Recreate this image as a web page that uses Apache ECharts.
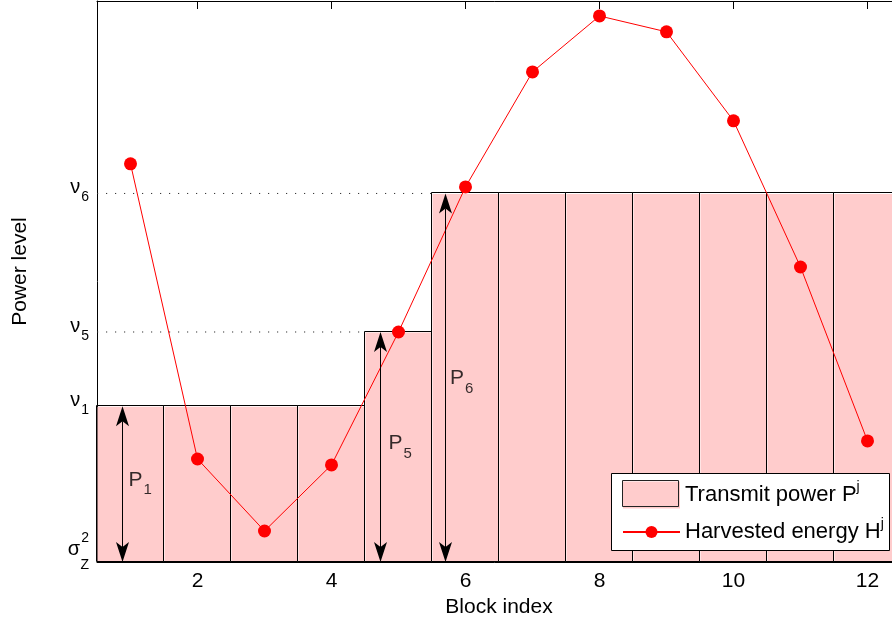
<!DOCTYPE html>
<html>
<head>
<meta charset="utf-8">
<script src="https://cdn.jsdelivr.net/npm/echarts@6/dist/echarts.min.js"></script>
<style>html,body{margin:0;padding:0;background:#fff}#c{width:892px;height:620px}</style>
</head>
<body>
<div id="c"></div>
<script>
// ---- data ----
const blocks = ['1','2','3','4','5','6','7','8','9','10','11','12'];
const nu1 = 1.00, nu5 = 1.476, nu6 = 2.365;
const transmitPower = [nu1, nu1, nu1, nu1, nu5, nu6, nu6, nu6, nu6, nu6, nu6, nu6];
const harvestedEnergy = [2.555, 0.661, 0.199, 0.623, 1.476, 2.407, 3.145, 3.504, 3.402, 2.831, 1.893, 0.777];
const xTickLabels = ['2','4','6','8','10','12'];
const yTickValues = [0, nu1, nu5, nu6];
const yTickLabels = [
  '{sup|2}\n{sig|σ}{gap| }\n{zsub|Z}\n{pad| }',
  '{nu|ν}{sub|1}',
  '{nu|ν}{sub|5}',
  '{nu|ν}{sub|6}'
];
// water-level dotted guides: level and the block where it starts
const guideLevels = [nu5, nu6];
const guideBlocks = [5, 6];
// power arrows (x in block units), their tops and labels
const arrowX = [0.891, 4.746, 5.709];
const arrowTop = [nu1, nu5, nu6];
const powerSubs = ['1', '5', '6'];
const powerLabelX = [0.97, 4.851, 5.769];
const powerLabelY = [0.526, 0.761, 1.178];

const FONT = '"Liberation Sans", Arial, Helvetica, sans-serif';
const chart = echarts.init(document.getElementById('c'), null, {renderer: 'canvas'});

const evenIdx = (i, v) => xTickLabels.indexOf(String(v)) >= 0;
const snap = v => Math.floor(v - 0.5) + 0.5;

const series = [
  {
    name: 'Transmit power', type: 'bar', data: transmitPower,
    barWidth: '100%',
    itemStyle: {color: '#ffcccc', borderColor: 'rgba(0,0,0,0)', borderWidth: 1},
    emphasis: {disabled: true}, z: 2
  },
  {
    // crisp outlines of the blocks
    type: 'custom', silent: true, z: 2.5,
    data: transmitPower.map((v, i) => [i, v]),
    encode: {x: 0, y: 1},
    renderItem: (params, api) => {
      const c = api.coord([api.value(0), api.value(1)]);
      const b = api.coord([api.value(0), 0]);
      const bw = api.size([1, 0])[0];
      const x1 = snap(c[0] - bw / 2), x2 = snap(c[0] + bw / 2);
      const y1 = snap(c[1]), y2 = snap(b[1]);
      return {type: 'rect', shape: {x: x1, y: y1, width: x2 - x1, height: y2 - y1},
              style: {fill: 'none', stroke: '#000', lineWidth: 1}};
    }
  },
  {
    name: 'Harvested energy', type: 'line', data: harvestedEnergy,
    symbol: 'circle', symbolSize: 13,
    lineStyle: {color: '#ff0000', width: 1},
    itemStyle: {color: '#ff0000'},
    emphasis: {disabled: true}, z: 3
  }
];
guideLevels.forEach((lv, k) => {
  series.push({
    type: 'line', xAxisIndex: 2, silent: true, symbol: 'none', z: 3,
    data: [[0.5, lv], [guideBlocks[k] - 0.5, lv]],
    lineStyle: {color: '#333', width: 1, type: [1.2, 7.8]}
  });
});
series.push({
  type: 'custom', xAxisIndex: 2, silent: true, z: 5,
  data: arrowX.map((x, k) => [x, arrowTop[k]]),
  encode: {x: 0, y: 1},
  renderItem: (params, api) => {
    const t = api.coord([api.value(0), api.value(1)]);
    const b = api.coord([api.value(0), 0]);
    const X = snap(t[0]), yt = t[1], yb = b[1];
    const L = 20, N = 15, W = 6.5;
    return {
      type: 'group',
      children: [
        {type: 'line', shape: {x1: X, y1: yt + N, x2: X, y2: yb - N}, style: {stroke: '#000', lineWidth: 1}},
        {type: 'polygon', shape: {points: [[X, yt], [X + W, yt + L], [X, yt + N], [X - W, yt + L]]}, style: {fill: '#000'}},
        {type: 'polygon', shape: {points: [[X, yb], [X + W, yb - L], [X, yb - N], [X - W, yb - L]]}, style: {fill: '#000'}}
      ]
    };
  }
});
series.push({
  type: 'scatter', xAxisIndex: 2, silent: true, symbolSize: 0, z: 6,
  data: powerLabelX.map((x, k) => [x, powerLabelY[k], powerSubs[k]]),
  label: {
    show: true, position: 'right', distance: 0,
    formatter: p => 'P{s|' + p.value[2] + '}',
    fontFamily: FONT, fontSize: 21, color: '#000',
    rich: {
      s: {fontFamily: FONT, fontSize: 15, color: '#000', padding: [20, 0, 0, 1], verticalAlign: 'middle'}
    }
  }
});

const option = {
  animation: false,
  backgroundColor: '#fff',
  textStyle: {fontFamily: FONT},
  grid: {left: 97, top: 1, width: 804, height: 561, containLabel: false, outerBoundsMode: 'none'},
  xAxis: [
    {
      type: 'category', data: blocks, position: 'bottom',
      name: 'Block index', nameLocation: 'middle', nameGap: 32,
      nameTextStyle: {fontFamily: FONT, fontSize: 21, color: '#000'},
      axisLine: {lineStyle: {color: '#000', width: 1}},
      axisTick: {show: false},
      axisLabel: {interval: evenIdx, fontFamily: FONT, fontSize: 21, color: '#000', margin: 9},
      splitLine: {show: false}
    },
    {
      type: 'category', data: blocks, position: 'top',
      axisLine: {lineStyle: {color: '#000', width: 1}},
      axisTick: {show: true, inside: true, length: 8, alignWithLabel: true, interval: evenIdx, lineStyle: {color: '#000'}},
      axisLabel: {show: false},
      splitLine: {show: false}
    },
    {type: 'value', min: 0.5, max: 12.5, show: false}
  ],
  yAxis: {
    type: 'value', min: 0, max: 3.6,
    name: 'Power level', nameLocation: 'middle', nameGap: 66,
    nameTextStyle: {fontFamily: FONT, fontSize: 21, color: '#000', padding: [0, 0, 0, 20]},
    axisLine: {show: true, lineStyle: {color: '#000', width: 1}},
    axisTick: {show: false},
    splitLine: {show: false},
    axisLabel: {
      customValues: yTickValues,
      margin: 8, padding: [0, 0, 12, 0],
      formatter: (v, i) => yTickLabels[yTickValues.indexOf(v)],
      color: '#000', fontFamily: FONT,
      rich: {
        nu: {fontFamily: FONT, fontSize: 20, color: '#000', align: 'right', verticalAlign: 'middle'},
        sub: {fontFamily: FONT, fontSize: 14, color: '#000', align: 'right', verticalAlign: 'middle', padding: [20, 0, 0, 1]},
        sig: {fontFamily: FONT, fontSize: 20, color: '#000', align: 'right', lineHeight: 14},
        gap: {fontFamily: FONT, fontSize: 14, color: '#000', align: 'right', width: 9, lineHeight: 14},
        sup: {fontFamily: FONT, fontSize: 14, color: '#000', align: 'right', lineHeight: 8},
        zsub: {fontFamily: FONT, fontSize: 14, color: '#000', align: 'right', lineHeight: 18},
        pad: {fontFamily: FONT, fontSize: 4, color: '#000', align: 'right', lineHeight: 4}
      }
    }
  },
  legend: [
    {
      data: ['Transmit power'],
      left: 622, top: 480, z: 10,
      itemWidth: 57, itemHeight: 27, icon: 'rect', selectedMode: false, padding: 0,
      itemStyle: {color: '#ffcccc'},
      formatter: () => 'Transmit power P{sup|j}',
      textStyle: {fontFamily: FONT, fontSize: 22, color: '#000',
        rich: {sup: {fontFamily: FONT, fontSize: 14, color: '#000', padding: [0, 0, 16, 0]}}}
    },
    {
      data: ['Harvested energy'], left: 622, top: 517, z: 10,
      itemWidth: 57, itemHeight: 15, selectedMode: false, padding: 0,
      formatter: () => 'Harvested energy H{sup|j}',
      textStyle: {fontFamily: FONT, fontSize: 22, color: '#000',
        rich: {sup: {fontFamily: FONT, fontSize: 14, color: '#000', padding: [0, 0, 16, 0]}}}
    }
  ],
  graphic: [
    {
      type: 'rect', z: 8, silent: true,
      shape: {x: 611.5, y: 473.5, width: 278, height: 77},
      style: {fill: '#fff', stroke: '#000', lineWidth: 1}
    },
    {
      // outline of the legend swatch for the blocks
      type: 'rect', z: 20, silent: true,
      shape: {x: 622.5, y: 480.5, width: 56, height: 26},
      style: {fill: 'none', stroke: '#222', lineWidth: 1}
    }
  ],
  series: series
};
chart.setOption(option);
</script>
</body>
</html>
